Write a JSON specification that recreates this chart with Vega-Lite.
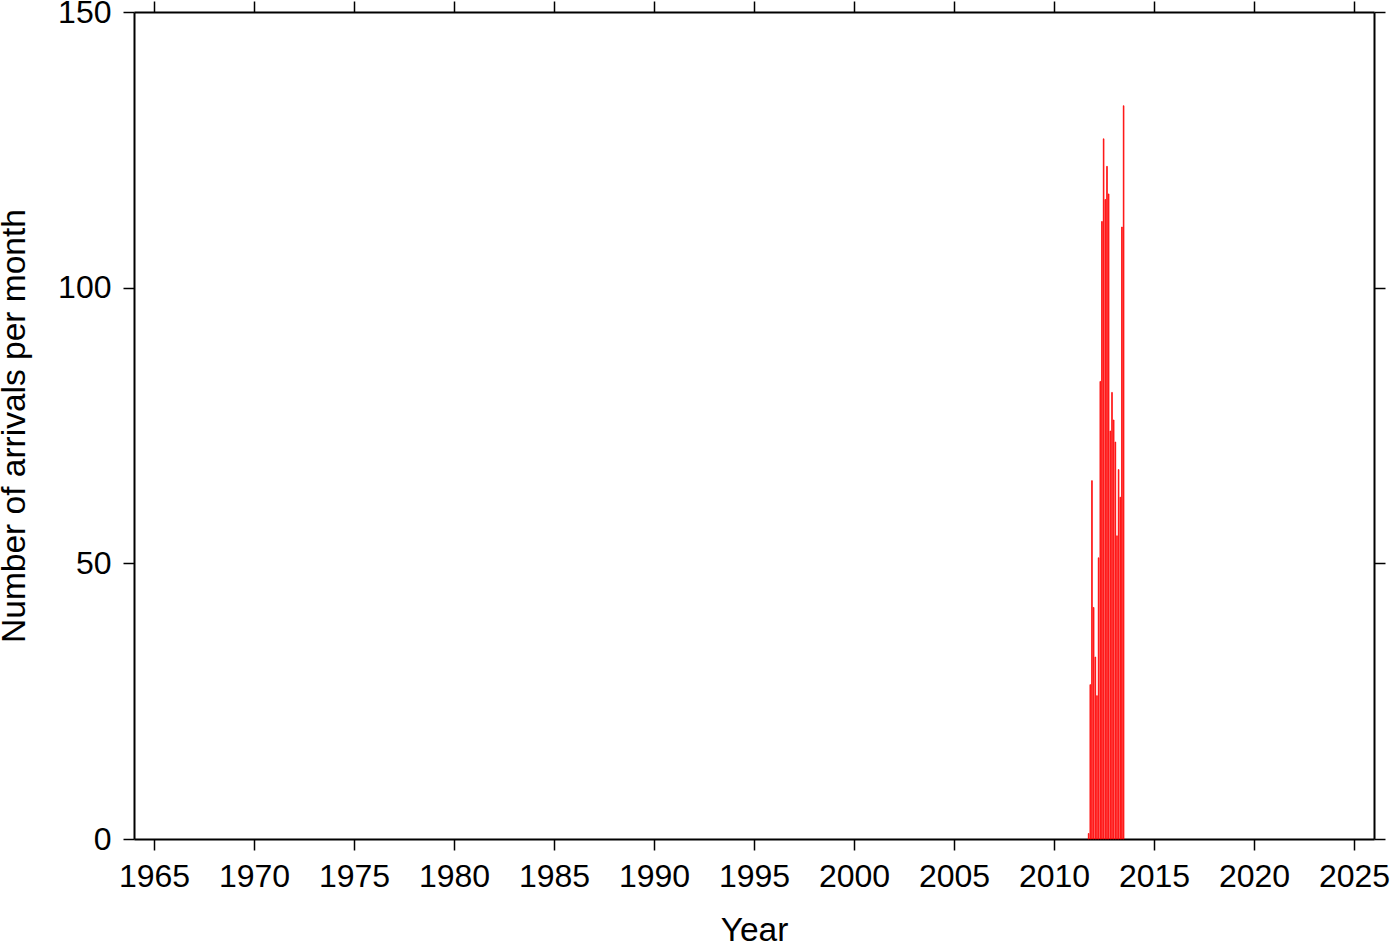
{
  "$schema": "https://vega.github.io/schema/vega-lite/v6.json",
  "width": 1240,
  "height": 827,
  "autosize": {"type": "none"},
  "padding": {"left": 134, "top": 12, "right": 26, "bottom": 103},
  "background": "white",
  "config": {
    "view": {"stroke": null},
    "font": "Liberation Sans",
    "axis": {
      "grid": false,
      "domainColor": "black",
      "domainWidth": 2,
      "tickColor": "black",
      "tickWidth": 1.5,
      "tickSize": 11,
      "labelFont": "Liberation Sans",
      "labelFontSize": 32,
      "labelColor": "black",
      "titleFont": "Liberation Sans",
      "titleFontSize": 33.5,
      "titleFontWeight": "normal",
      "titleColor": "black"
    }
  },
  "data": {
    "values": [
      {"date": "2011-09-01", "count": 1},
      {"date": "2011-10-01", "count": 28},
      {"date": "2011-11-01", "count": 65},
      {"date": "2011-12-01", "count": 42},
      {"date": "2012-01-01", "count": 33},
      {"date": "2012-02-01", "count": 26},
      {"date": "2012-03-01", "count": 51},
      {"date": "2012-04-01", "count": 83},
      {"date": "2012-05-01", "count": 112},
      {"date": "2012-06-01", "count": 127},
      {"date": "2012-07-01", "count": 116},
      {"date": "2012-08-01", "count": 122},
      {"date": "2012-09-01", "count": 117},
      {"date": "2012-10-01", "count": 74},
      {"date": "2012-11-01", "count": 81},
      {"date": "2012-12-01", "count": 76},
      {"date": "2013-01-01", "count": 72},
      {"date": "2013-02-01", "count": 55},
      {"date": "2013-03-01", "count": 67},
      {"date": "2013-04-01", "count": 62},
      {"date": "2013-05-01", "count": 111},
      {"date": "2013-06-01", "count": 133}
    ]
  },
  "layer": [
    {
      "mark": {"type": "bar", "fill": "#ff3535", "stroke": "#ff0000", "strokeWidth": 0.8},
      "encoding": {
        "x": {
          "field": "date",
          "type": "temporal",
          "timeUnit": "utcyearmonth",
          "scale": {"type": "utc", "domain": [{"year": 1964, "utc": true}, {"year": 2026, "utc": true}], "nice": false},
          "axis": {
            "orient": "bottom",
            "title": "Year",
            "labelExpr": "utcFormat(datum.value, '%Y')",
            "values": [
              {"year": 1965, "utc": true}, {"year": 1970, "utc": true}, {"year": 1975, "utc": true},
              {"year": 1980, "utc": true}, {"year": 1985, "utc": true}, {"year": 1990, "utc": true},
              {"year": 1995, "utc": true}, {"year": 2000, "utc": true}, {"year": 2005, "utc": true},
              {"year": 2010, "utc": true}, {"year": 2015, "utc": true}, {"year": 2020, "utc": true},
              {"year": 2025, "utc": true}
            ],
            "labelPadding": 11,
            "labelDx": 6,
            "titlePadding": 22,
            "labelFlush": false,
            "labelOverlap": false
          }
        },
        "y": {
          "field": "count",
          "type": "quantitative",
          "scale": {"domain": [0, 150], "nice": false},
          "axis": {
            "orient": "left",
            "title": "Number of arrivals per month",
            "values": [0, 50, 100, 150],
            "labelPadding": 12,
            "titlePadding": 26,
            "labelFlush": false
          }
        }
      }
    },
    {
      "mark": {"type": "bar", "opacity": 0},
      "encoding": {
        "x": {
          "field": "date",
          "type": "temporal",
          "timeUnit": "utcyearmonth",
          "axis": {
            "orient": "top",
            "title": null,
            "labels": false,
            "values": [
              {"year": 1965, "utc": true}, {"year": 1970, "utc": true}, {"year": 1975, "utc": true},
              {"year": 1980, "utc": true}, {"year": 1985, "utc": true}, {"year": 1990, "utc": true},
              {"year": 1995, "utc": true}, {"year": 2000, "utc": true}, {"year": 2005, "utc": true},
              {"year": 2010, "utc": true}, {"year": 2015, "utc": true}, {"year": 2020, "utc": true},
              {"year": 2025, "utc": true}
            ]
          }
        },
        "y": {
          "field": "count",
          "type": "quantitative",
          "axis": {"orient": "right", "title": null, "labels": false, "values": [0, 50, 100, 150]}
        }
      }
    }
  ],
  "resolve": {"axis": {"x": "independent", "y": "independent"}}
}
